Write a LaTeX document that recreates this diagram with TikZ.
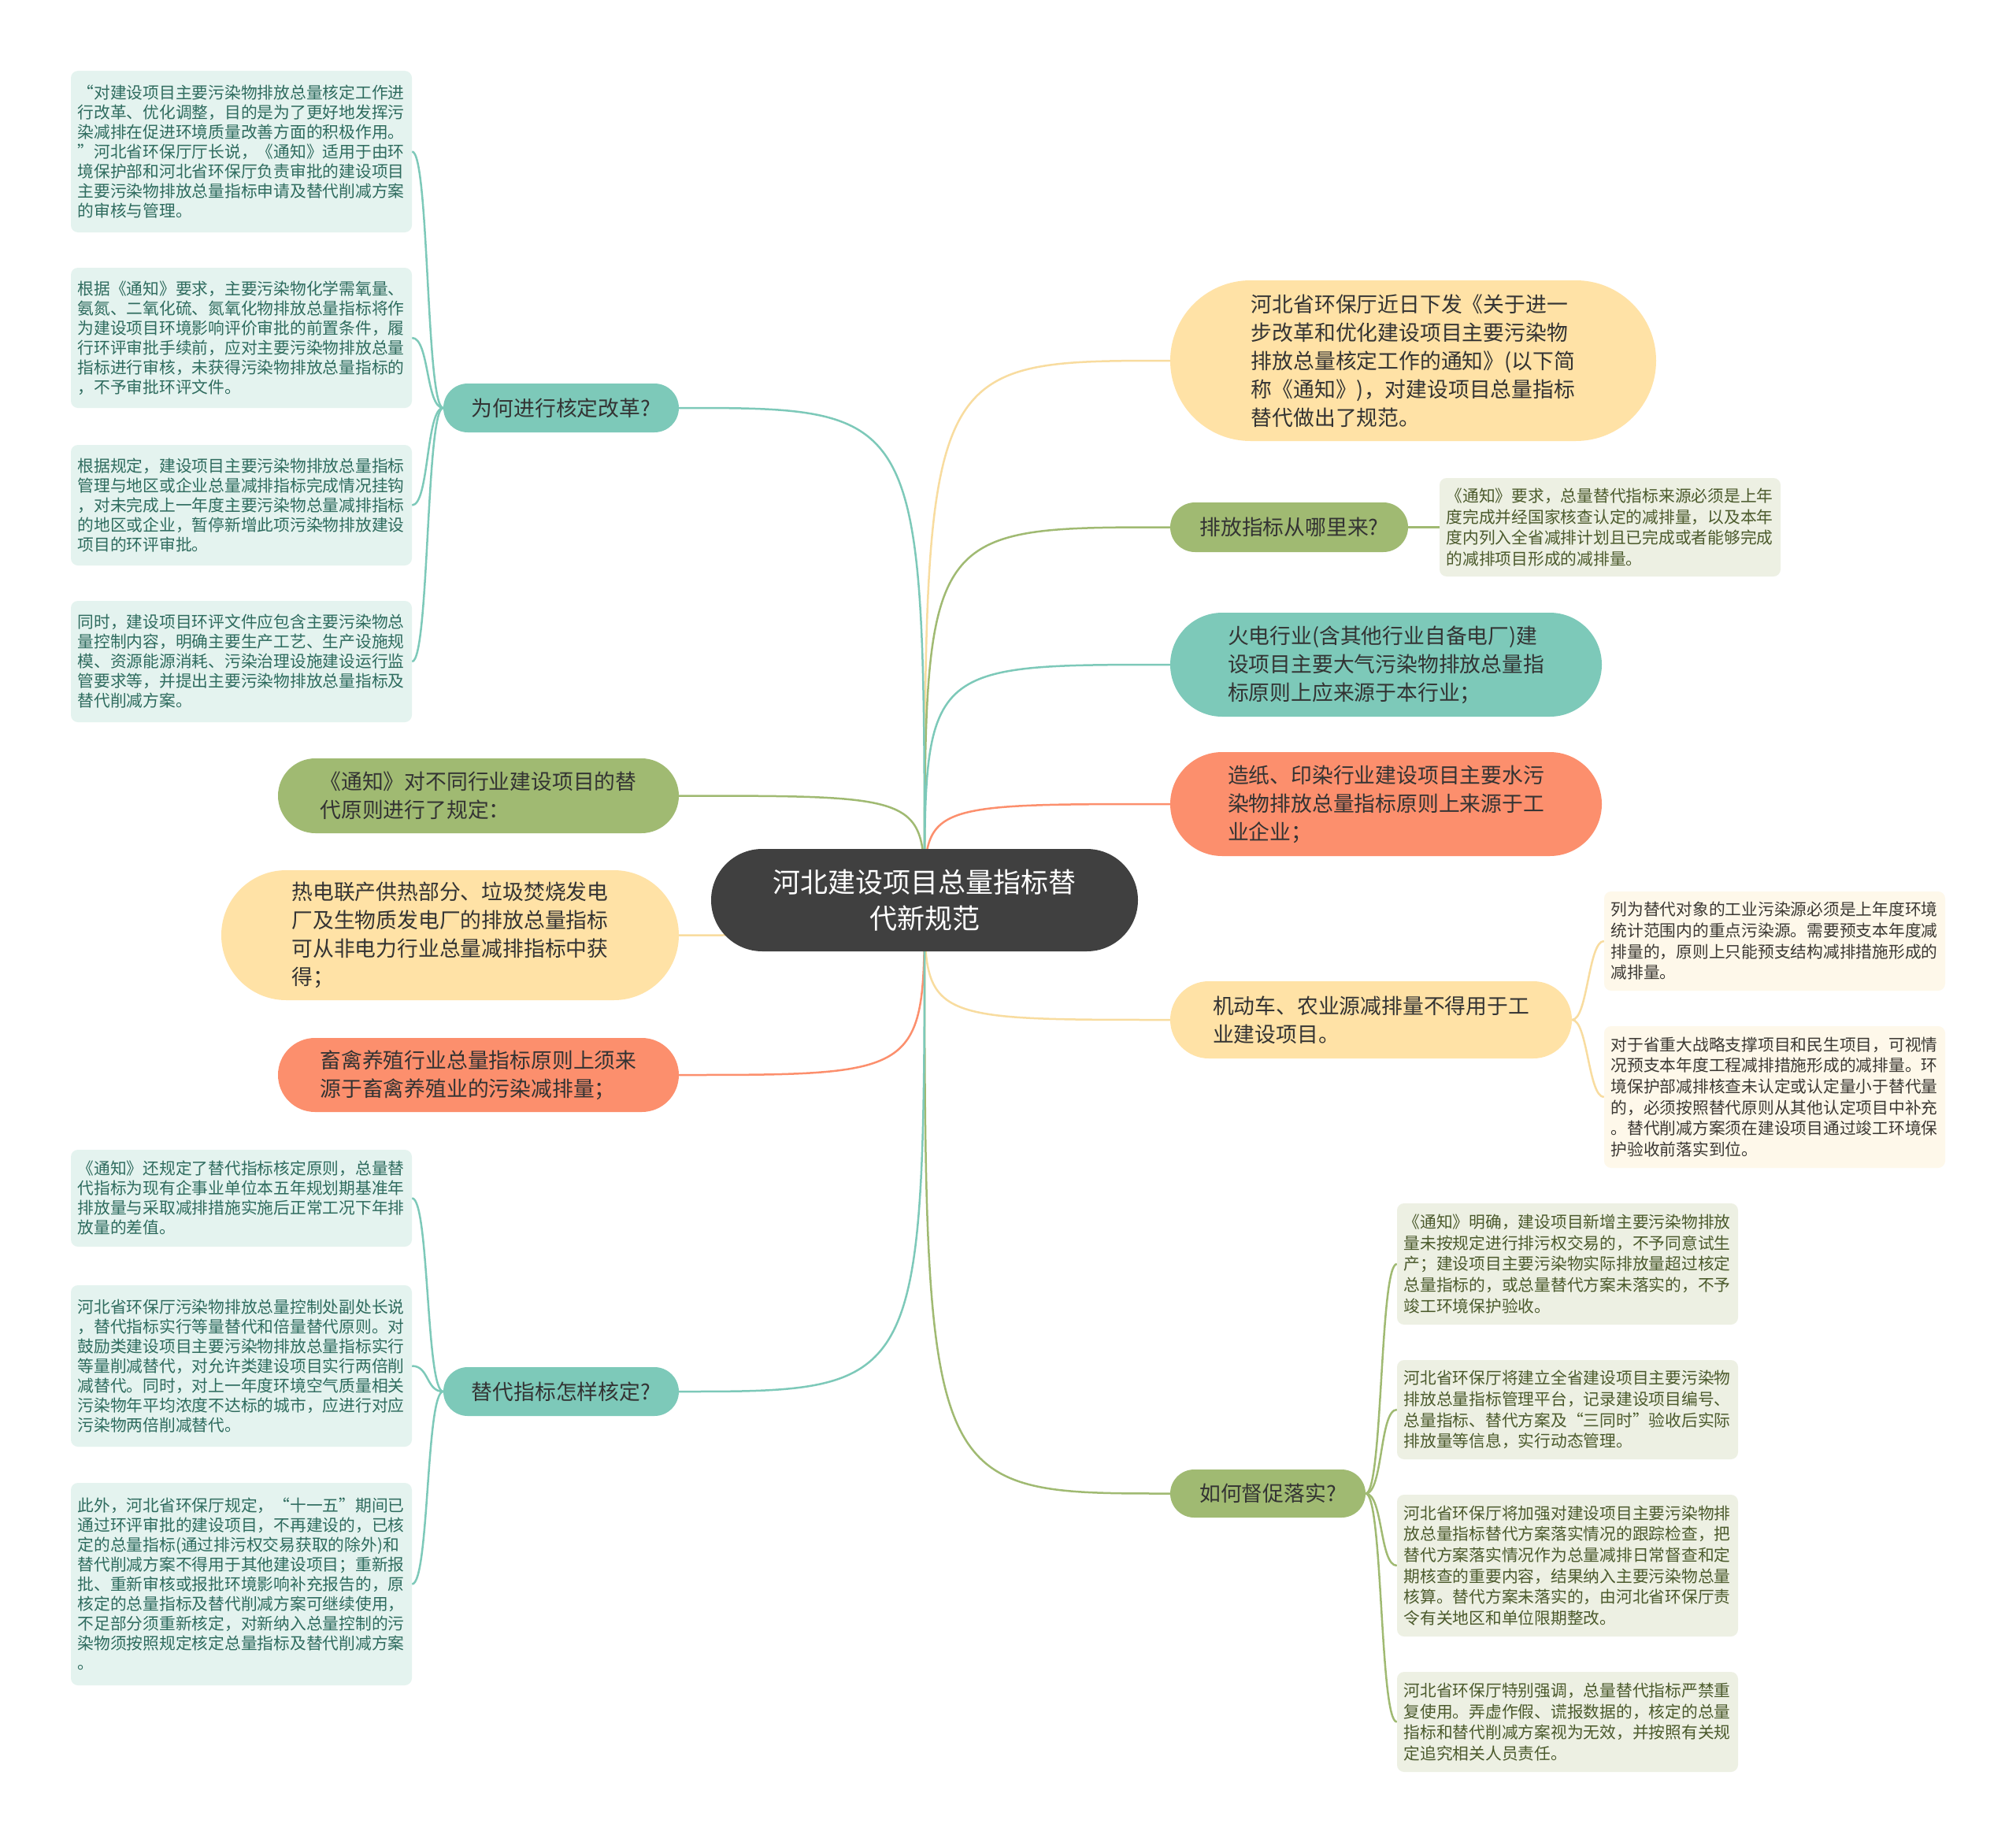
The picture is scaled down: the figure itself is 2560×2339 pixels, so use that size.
\documentclass[tikz,border=0pt]{standalone}
\usepackage{fontspec}
\setmainfont{Noto Sans CJK SC}
\usetikzlibrary{shapes.misc,backgrounds}

\definecolor{ctrgray}{HTML}{404040}
\definecolor{pyellow}{HTML}{FFE2A6}
\definecolor{lyellow}{HTML}{F8DC9F}
\definecolor{polive}{HTML}{A0BA72}
\definecolor{pteal}{HTML}{7DC9B9}
\definecolor{psalmon}{HTML}{FC8F6D}
\definecolor{leafteal}{HTML}{E4F3EF}
\definecolor{txtteal}{HTML}{2E6B5E}
\definecolor{leafolive}{HTML}{EDF0E3}
\definecolor{txtolive}{HTML}{4B5A2C}
\definecolor{leafcream}{HTML}{FEF8EA}
\definecolor{txtcream}{HTML}{3B3833}
\definecolor{txtdark}{HTML}{333333}

\begin{document}
\begin{tikzpicture}[x=1pt, y=-1pt,
    topic/.style={rounded rectangle, fill=#1, text=txtdark, align=left,
      inner xsep=0pt, inner ysep=2pt, font=\fontsize{26.8}{36}\selectfont},
    leaf/.style={rectangle, rounded corners=9pt, text width=416pt, align=left,
      inner xsep=8.5pt, inner ysep=0pt},
    tealleaf/.style={leaf, fill=leafteal, text=txtteal, font=\fontsize{20.75}{25}\selectfont},
    oliveleaf/.style={leaf, fill=leafolive, text=txtolive, font=\fontsize{20.75}{26.7}\selectfont},
    creamleaf/.style={leaf, fill=leafcream, text=txtcream, font=\fontsize{20.75}{26.7}\selectfont},
    link/.style={line width=2.5pt, draw=#1}]

    \useasboundingbox (0,0) rectangle (2560,2339);

    % Centre topic
    \node[rounded rectangle, fill=ctrgray, text=white, align=center, inner xsep=0pt,
      minimum width=542pt, minimum height=130pt, font=\fontsize{35}{46}\selectfont]
      (ctr) at (1174,1143) {河北建设项目总量指标替\\代新规范};

    % Right branches
    \node[topic=pyellow, minimum width=617pt, minimum height=204pt] (r1) at (1794.5,458)
      {河北省环保厅近日下发《关于进一\\步改革和优化建设项目主要污染物\\排放总量核定工作的通知》(以下简\\称《通知》)，对建设项目总量指标\\替代做出了规范。};
    \node[topic=polive, minimum width=302pt, minimum height=63pt] (r2) at (1637,669.5)
      {排放指标从哪里来?};
    \node[topic=pteal, minimum width=548pt, minimum height=132pt] (r3) at (1760,844)
      {火电行业(含其他行业自备电厂)建\\设项目主要大气污染物排放总量指\\标原则上应来源于本行业；};
    \node[topic=psalmon, minimum width=548pt, minimum height=132pt] (r4) at (1760,1021)
      {造纸、印染行业建设项目主要水污\\染物排放总量指标原则上来源于工\\业企业；};
    \node[topic=pyellow, minimum width=510pt, minimum height=98pt] (r5) at (1741,1295)
      {机动车、农业源减排量不得用于工\\业建设项目。};
    \node[topic=polive, minimum width=248pt, minimum height=61pt] (r6) at (1610,1896.5)
      {如何督促落实?};

    % Left branches
    \node[topic=pteal, minimum width=299pt, minimum height=62pt] (l1) at (712.5,518)
      {为何进行核定改革?};
    \node[topic=polive, minimum width=509pt, minimum height=95pt] (l2) at (607.5,1010.5)
      {《通知》对不同行业建设项目的替\\代原则进行了规定：};
    \node[topic=pyellow, minimum width=581pt, minimum height=165pt] (l3) at (571.5,1187.5)
      {热电联产供热部分、垃圾焚烧发电\\厂及生物质发电厂的排放总量指标\\可从非电力行业总量减排指标中获\\得；};
    \node[topic=psalmon, minimum width=509pt, minimum height=94pt] (l4) at (607.5,1365)
      {畜禽养殖行业总量指标原则上须来\\源于畜禽养殖业的污染减排量；};
    \node[topic=pteal, minimum width=299pt, minimum height=62pt] (l5) at (712.5,1767)
      {替代指标怎样核定?};

    % Leaves of l1
    \node[tealleaf, minimum height=205pt] (l1a) at (306.5,192.5)
      {“对建设项目主要污染物排放总量核定工作进\\行改革、优化调整，目的是为了更好地发挥污\\染减排在促进环境质量改善方面的积极作用。\\”河北省环保厅厅长说，《通知》适用于由环\\境保护部和河北省环保厅负责审批的建设项目\\主要污染物排放总量指标申请及替代削减方案\\的审核与管理。};
    \node[tealleaf, minimum height=178pt] (l1b) at (306.5,429)
      {根据《通知》要求，主要污染物化学需氧量、\\氨氮、二氧化硫、氮氧化物排放总量指标将作\\为建设项目环境影响评价审批的前置条件，履\\行环评审批手续前，应对主要污染物排放总量\\指标进行审核，未获得污染物排放总量指标的\\，不予审批环评文件。};
    \node[tealleaf, minimum height=153pt] (l1c) at (306.5,641.5)
      {根据规定，建设项目主要污染物排放总量指标\\管理与地区或企业总量减排指标完成情况挂钩\\，对未完成上一年度主要污染物总量减排指标\\的地区或企业，暂停新增此项污染物排放建设\\项目的环评审批。};
    \node[tealleaf, minimum height=154pt] (l1d) at (306.5,840)
      {同时，建设项目环评文件应包含主要污染物总\\量控制内容，明确主要生产工艺、生产设施规\\模、资源能源消耗、污染治理设施建设运行监\\管要求等，并提出主要污染物排放总量指标及\\替代削减方案。};

    % Leaves of l5
    \node[tealleaf, minimum height=123pt] (l5a) at (306.5,1521.5)
      {《通知》还规定了替代指标核定原则，总量替\\代指标为现有企事业单位本五年规划期基准年\\排放量与采取减排措施实施后正常工况下年排\\放量的差值。};
    \node[tealleaf, minimum height=205pt] (l5b) at (306.5,1734.5)
      {河北省环保厅污染物排放总量控制处副处长说\\，替代指标实行等量替代和倍量替代原则。对\\鼓励类建设项目主要污染物排放总量指标实行\\等量削减替代，对允许类建设项目实行两倍削\\减替代。同时，对上一年度环境空气质量相关\\污染物年平均浓度不达标的城市，应进行对应\\污染物两倍削减替代。};
    \node[tealleaf, minimum height=257pt] (l5c) at (306.5,2011.5)
      {此外，河北省环保厅规定，“十一五”期间已\\通过环评审批的建设项目，不再建设的，已核\\定的总量指标(通过排污权交易获取的除外)和\\替代削减方案不得用于其他建设项目；重新报\\批、重新审核或报批环境影响补充报告的，原\\核定的总量指标及替代削减方案可继续使用，\\不足部分须重新核定，对新纳入总量控制的污\\染物须按照规定核定总量指标及替代削减方案\\。};

    % Leaf of r2
    \node[oliveleaf, minimum height=125pt] (r2a) at (2044.5,669.5)
      {《通知》要求，总量替代指标来源必须是上年\\度完成并经国家核查认定的减排量，以及本年\\度内列入全省减排计划且已完成或者能够完成\\的减排项目形成的减排量。};

    % Leaves of r5
    \node[creamleaf, minimum height=126pt] (r5a) at (2253.5,1195)
      {列为替代对象的工业污染源必须是上年度环境\\统计范围内的重点污染源。需要预支本年度减\\排量的，原则上只能预支结构减排措施形成的\\减排量。};
    \node[creamleaf, minimum height=180pt] (r5b) at (2253.5,1393)
      {对于省重大战略支撑项目和民生项目，可视情\\况预支本年度工程减排措施形成的减排量。环\\境保护部减排核查未认定或认定量小于替代量\\的，必须按照替代原则从其他认定项目中补充\\。替代削减方案须在建设项目通过竣工环境保\\护验收前落实到位。};

    % Leaves of r6
    \node[oliveleaf, minimum height=154pt] (r6a) at (1990.5,1605)
      {《通知》明确，建设项目新增主要污染物排放\\量未按规定进行排污权交易的，不予同意试生\\产；建设项目主要污染物实际排放量超过核定\\总量指标的，或总量替代方案未落实的，不予\\竣工环境保护验收。};
    \node[oliveleaf, minimum height=126pt] (r6b) at (1990.5,1790)
      {河北省环保厅将建立全省建设项目主要污染物\\排放总量指标管理平台，记录建设项目编号、\\总量指标、替代方案及“三同时”验收后实际\\排放量等信息，实行动态管理。};
    \node[oliveleaf, minimum height=180pt] (r6c) at (1990.5,1988)
      {河北省环保厅将加强对建设项目主要污染物排\\放总量指标替代方案落实情况的跟踪检查，把\\替代方案落实情况作为总量减排日常督查和定\\期核查的重要内容，结果纳入主要污染物总量\\核算。替代方案未落实的，由河北省环保厅责\\令有关地区和单位限期整改。};
    \node[oliveleaf, minimum height=127pt] (r6d) at (1990.5,2186.5)
      {河北省环保厅特别强调，总量替代指标严禁重\\复使用。弄虚作假、谎报数据的，核定的总量\\指标和替代削减方案视为无效，并按照有关规\\定追究相关人员责任。};

    % Connectors, behind the nodes
    \begin{scope}[on background layer]
      \fill[white] (0,0) rectangle (2560,2339);
      \foreach \br/\col in {r1/lyellow, r2/polive, r3/pteal, r4/psalmon, r5/lyellow, r6/polive}
        \draw[link=\col] (ctr.center) .. controls (ctr.center |- \br.west) .. (\br.west);
      \foreach \br/\col in {l1/pteal, l2/polive, l3/lyellow, l4/psalmon, l5/pteal}
        \draw[link=\col] (ctr.center) .. controls (ctr.center |- \br.east) .. (\br.east);

      \foreach \lf in {l1a,l1b,l1c,l1d}
        \draw[link=pteal] (l1.west) .. controls +(-22,0) and +(22,0) .. (\lf.east);
      \foreach \lf in {l5a,l5b,l5c}
        \draw[link=pteal] (l5.west) .. controls +(-22,0) and +(22,0) .. (\lf.east);
      \draw[link=polive] (r2.east) -- (r2a.west);
      \foreach \lf in {r5a,r5b}
        \draw[link=lyellow] (r5.east) .. controls +(20,0) and +(-20,0) .. (\lf.west);
      \foreach \lf in {r6a,r6b,r6c,r6d}
        \draw[link=polive] (r6.east) .. controls +(22,0) and +(-22,0) .. (\lf.west);
    \end{scope}

\end{tikzpicture}
\end{document}
